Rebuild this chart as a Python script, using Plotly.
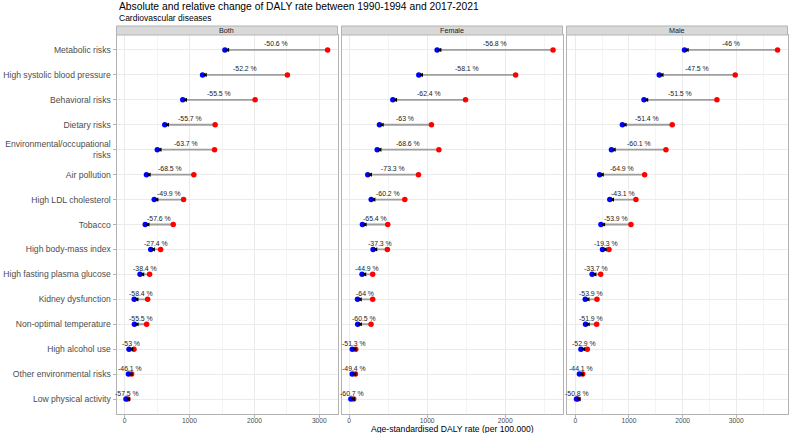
import plotly.graph_objects as go

risks = ["Metabolic risks", "High systolic blood pressure", "Behavioral risks", "Dietary risks",
         "Environmental/occupational<br>risks", "Air pollution", "High LDL cholesterol", "Tobacco",
         "High body-mass index", "High fasting plasma glucose", "Kidney dysfunction",
         "Non-optimal temperature", "High alcohol use", "Other environmental risks",
         "Low physical activity"]

# 1990-1994 (red) and 2017-2021 (blue) DALY rates, plus relative change labels
both_1990 = [3128, 2508, 2010, 1394, 1385, 1066, 908, 748, 554, 384, 354, 338, 143, 107, 48]
both_2017 = [1545, 1200, 895, 618, 503, 336, 455, 317, 402, 237, 147, 150, 67, 58, 20]
both_pct = [-50.6, -52.2, -55.5, -55.7, -63.7, -68.5, -49.9, -57.6, -27.4, -38.4, -58.4, -55.5, -53, -46.1, -57.5]

female_1990 = [2611, 2132, 1491, 1055, 1150, 889, 714, 496, 491, 303, 303, 282, 86, 82, 60]
female_2017 = [1128, 893, 561, 390, 361, 240, 284, 172, 308, 167, 109, 111, 42, 41, 24]
female_pct = [-56.8, -58.1, -62.4, -63, -68.6, -73.3, -60.2, -65.4, -37.3, -44.9, -64, -60.5, -51.3, -49.4, -60.7]

male_1990 = [3769, 2980, 2639, 1806, 1689, 1292, 1130, 1037, 628, 473, 404, 398, 224, 138, 45]
male_2017 = [2035, 1565, 1280, 878, 674, 453, 643, 478, 507, 314, 186, 191, 105, 77, 22]
male_pct = [-46, -47.5, -51.5, -51.4, -60.1, -64.9, -43.1, -53.9, -19.3, -33.7, -53.9, -51.9, -52.9, -44.1, -50.8]

panels = ["Both", "Female", "Male"]
x_ticks = [0, 1000, 2000, 3000]

W, H = 789, 433
FONT = "Liberation Sans, Arial, sans-serif"

data = [(both_1990, both_2017, both_pct), (female_1990, female_2017, female_pct),
        (male_1990, male_2017, male_pct)]
px_domains = [(116.5, 337.5), (341.5, 562.5), (566.5, 787.5)]
ranges = [[-126, 3280], [-96, 2732], [-164, 3954]]
y_top, y_bot = 35, 414
ydom = [1 - y_bot / H, 1 - y_top / H]

fig = go.Figure()
annotations = []

def fmt(p):
    return ("%g" % p) + " %"

for i, (red, blue, pct) in enumerate(data):
    xa = "x" if i == 0 else "x%d" % (i + 1)
    ya = "y" if i == 0 else "y%d" % (i + 1)
    segx, segy = [], []
    for r, b, c in zip(red, blue, risks):
        segx += [r, b, None]
        segy += [c, c, None]
    fig.add_trace(go.Scatter(x=segx, y=segy, mode="lines", line=dict(color="#9E9E9E", width=1.8),
                             xaxis=xa, yaxis=ya, hoverinfo="skip", showlegend=False))
    fig.add_trace(go.Scatter(x=red, y=risks, mode="markers", marker=dict(color="#FF0000", size=5.5),
                             xaxis=xa, yaxis=ya, hoverinfo="skip", showlegend=False))
    fig.add_trace(go.Scatter(x=blue, y=risks, mode="markers", marker=dict(color="#0000FF", size=5.5),
                             xaxis=xa, yaxis=ya, hoverinfo="skip", showlegend=False))
    # small black arrow heads pointing at the 2017-2021 value
    for b, c in zip(blue, risks):
        annotations.append(dict(x=b, y=c, xref=xa, yref=ya, text="", showarrow=True,
                                ax=4, ay=0, arrowhead=2, arrowsize=0.7, arrowwidth=1.2,
                                arrowcolor="black", standoff=0))
    # relative change labels above the segment midpoints
    for r, b, c, p in zip(red, blue, risks, pct):
        annotations.append(dict(x=(r + b) / 2, y=c, xref=xa, yref=ya, text=fmt(p), showarrow=False,
                                xanchor="center", yanchor="middle", yshift=6,
                                font=dict(family=FONT, size=6.9, color="#1A1A1A")))

layout = dict(
    width=W, height=H, margin=dict(l=0, r=0, t=0, b=0),
    paper_bgcolor="white", plot_bgcolor="white",
    font=dict(family=FONT, color="#4D4D4D"),
    showlegend=False,
)

for i in range(3):
    xk = "xaxis" if i == 0 else "xaxis%d" % (i + 1)
    yk = "yaxis" if i == 0 else "yaxis%d" % (i + 1)
    ya = "y" if i == 0 else "y%d" % (i + 1)
    xa = "x" if i == 0 else "x%d" % (i + 1)
    d0, d1 = px_domains[i]
    layout[xk] = dict(domain=[d0 / W, d1 / W], anchor=ya, range=ranges[i], autorange=False,
                      tickvals=x_ticks, ticktext=[str(v) for v in x_ticks],
                      showgrid=True, gridcolor="#EBEBEB", gridwidth=0.8,
                      minor=dict(tickvals=[500, 1500, 2500, 3500], showgrid=True,
                                 gridcolor="#F4F4F4", gridwidth=0.6, ticks=""),
                      zeroline=False, showline=True, mirror=True, linecolor="#B3B3B3", linewidth=1,
                      ticks="outside", ticklen=2.5, tickcolor="#B3B3B3", tickwidth=0.8,
                      ticklabelstandoff=-3,
                      tickfont=dict(family=FONT, size=6.7, color="#4D4D4D"))
    ydict = dict(domain=ydom, anchor=xa, type="category", categoryarray=risks,
                 categoryorder="array", range=[len(risks) - 0.4, -0.6], autorange=False,
                 showgrid=True, gridcolor="#EBEBEB", gridwidth=0.8, zeroline=False,
                 showline=True, mirror=True, linecolor="#B3B3B3", linewidth=1,
                 ticks="outside" if i == 0 else "", ticklen=3, tickcolor="#B3B3B3", tickwidth=0.8,
                 showticklabels=(i == 0),
                 tickfont=dict(family=FONT, size=8.6, color="#4D4D4D"))
    if i > 0:
        ydict["matches"] = "y"
    layout[yk] = ydict

fig.update_layout(**layout)

shapes = []
strip_top, strip_bot = 26, 35
for i, (d0, d1) in enumerate(px_domains):
    shapes.append(dict(type="rect", xref="paper", yref="paper", x0=d0 / W, x1=d1 / W,
                       y0=1 - strip_bot / H, y1=1 - strip_top / H,
                       fillcolor="#D9D9D9", line=dict(color="#B3B3B3", width=1), layer="above"))
    annotations.append(dict(text=panels[i], xref="paper", yref="paper", x=(d0 + d1) / 2 / W,
                            y=1 - (strip_top + strip_bot) / 2 / H, showarrow=False,
                            xanchor="center", yanchor="middle",
                            font=dict(family=FONT, size=7.2, color="#1A1A1A")))

annotations.append(dict(text="Absolute and relative change of DALY rate between 1990-1994 and 2017-2021",
                        xref="paper", yref="paper", x=116.5 / W, y=1 - 7 / H, showarrow=False,
                        xanchor="left", yanchor="middle",
                        font=dict(family=FONT, size=10.3, color="black")))
annotations.append(dict(text="Cardiovascular diseases", xref="paper", yref="paper",
                        x=116.5 / W, y=1 - 18 / H, showarrow=False, xanchor="left", yanchor="middle",
                        font=dict(family=FONT, size=8.5, color="black")))
annotations.append(dict(text="Age-standardised DALY rate (per 100.000)", xref="paper", yref="paper",
                        x=452 / W, y=1 - 429 / H, showarrow=False, xanchor="center", yanchor="middle",
                        font=dict(family=FONT, size=8.6, color="black")))

fig.update_layout(shapes=shapes, annotations=annotations)

fig.write_html("out.html")
